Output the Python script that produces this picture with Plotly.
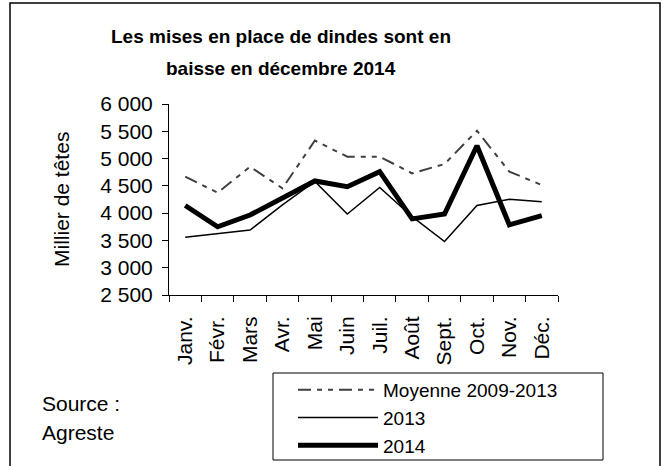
import plotly.graph_objects as go

months = ["Janv.", "Févr.", "Mars", "Avr.", "Mai", "Juin", "Juil.", "Août", "Sept.", "Oct.", "Nov.", "Déc."]
moyenne = [4670, 4375, 4850, 4455, 5330, 5035, 5035, 4730, 4900, 5510, 4760, 4515]
y2013 = [3560, 3630, 3690, 4150, 4580, 3985, 4470, 3935, 3480, 4140, 4255, 4210]
y2014 = [4140, 3750, 3965, 4270, 4590, 4485, 4760, 3895, 3985, 5235, 3785, 3955]

FONT = "Liberation Sans, Arial, sans-serif"
FS = 21
L, R, T, B = 169, 108, 104, 171
W, H = 666, 466
pw, ph = W - L - R, H - T - B

def px(x):
    return (x - L) / pw

def py(y):
    return (H - B - y) / ph

fig = go.Figure()
fig.add_trace(go.Scatter(x=months, y=moyenne, mode="lines", name="Moyenne 2009-2013",
                         line=dict(color="#404040", width=2, dash="13px,6px,5px,6px,5px,6px")))
fig.add_trace(go.Scatter(x=months, y=y2013, mode="lines", name="2013",
                         line=dict(color="black", width=1.5)))
fig.add_trace(go.Scatter(x=months, y=y2014, mode="lines", name="2014",
                         line=dict(color="black", width=5)))

ann = dict(xref="paper", yref="paper", showarrow=False, yanchor="middle")

fig.update_layout(
    width=W, height=H,
    margin=dict(l=L, r=R, t=T, b=B, autoexpand=False),
    paper_bgcolor="white", plot_bgcolor="white",
    font=dict(family=FONT, size=FS, color="black"),
    separators=", ",
    showlegend=True,
    legend=dict(x=px(293), y=py(371), xanchor="left", yanchor="top",
                borderwidth=0, bgcolor="rgba(0,0,0,0)",
                itemwidth=80, font=dict(size=19), tracegroupgap=0),
    xaxis=dict(type="category", range=[-0.5, 11.5], showline=True, linecolor="black",
               linewidth=1, ticks="outside", tickson="boundaries", ticklen=6,
               tickcolor="black", tickangle=-90, showgrid=False, zeroline=False,
               automargin=False, ticklabelstandoff=12, tickfont=dict(size=FS)),
    yaxis=dict(range=[2500, 6000], dtick=500, tickformat=",d", showline=True,
               linecolor="black", linewidth=1, ticks="outside", ticklen=6,
               tickcolor="black", showgrid=False, zeroline=False, automargin=False,
               ticklabelstandoff=5, tickfont=dict(size=FS)),
    shapes=[
        dict(type="rect", xref="paper", yref="paper",
             x0=px(10), x1=px(660), y0=py(475), y1=py(3),
             line=dict(color="black", width=1.5), layer="below"),
        dict(type="rect", xref="paper", yref="paper",
             x0=px(273), x1=px(603), y0=py(460), y1=py(373),
             line=dict(color="black", width=1), layer="below"),
    ],
    annotations=[
        dict(text="<b>Les mises en place de dindes sont en</b>", x=px(281), y=py(36),
             xanchor="center", font=dict(size=19), **ann),
        dict(text="<b>baisse en décembre 2014</b>", x=px(281), y=py(68),
             xanchor="center", font=dict(size=19), **ann),
        dict(text="Millier de têtes", x=px(61), y=py(199), xanchor="center",
             textangle=-90, font=dict(size=FS), **ann),
        dict(text="Source :", x=px(40), y=py(403), xanchor="left", font=dict(size=FS), **ann),
        dict(text="Agreste", x=px(40), y=py(432), xanchor="left", font=dict(size=FS), **ann),
    ],
)

fig.write_html("out.html", config={"displayModeBar": False},
               post_script="document.body.style.margin='0';document.body.style.overflow='hidden';")
